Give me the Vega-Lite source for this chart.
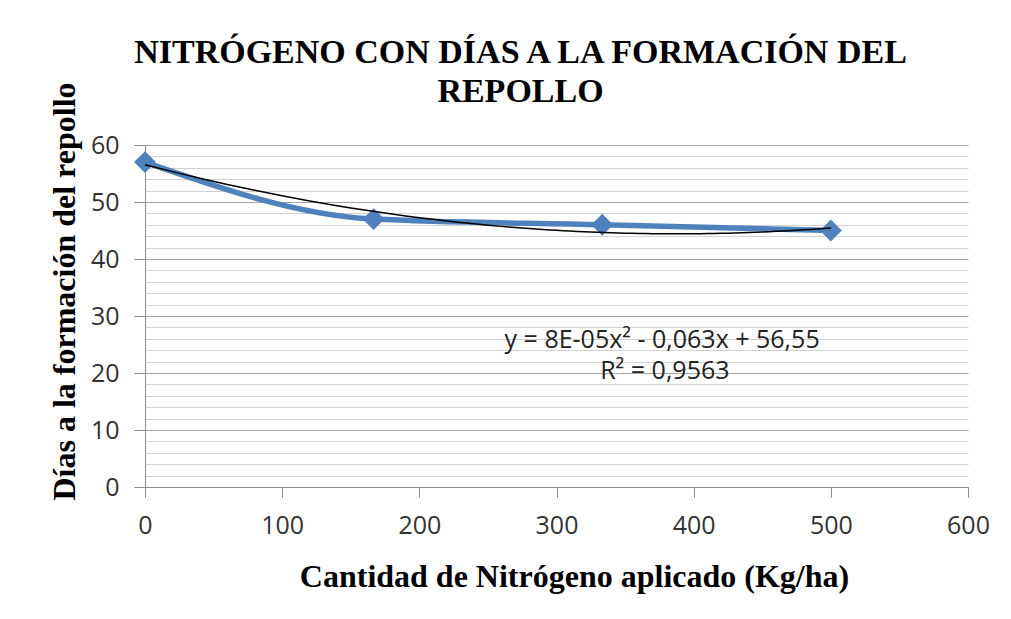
{
  "$schema": "https://vega.github.io/schema/vega-lite/v6.json",
  "width": 823,
  "height": 342,
  "autosize": "none",
  "padding": {"left": 145, "top": 145, "right": 43, "bottom": 132},
  "background": "white",
  "title": {
    "text": ["NITRÓGENO CON DÍAS A LA FORMACIÓN DEL", "REPOLLO"],
    "font": "Liberation Serif",
    "fontSize": 34,
    "fontWeight": "bold",
    "color": "black",
    "lineHeight": 39,
    "anchor": "middle",
    "frame": "group",
    "dx": -36,
    "dy": 67,
    "offset": 40
  },
  "data": {
    "values": [
      {"n": 0, "d": 57},
      {"n": 166.67, "d": 47},
      {"n": 333.33, "d": 46},
      {"n": 500, "d": 45}
    ]
  },
  "encoding": {
    "x": {
      "field": "n",
      "type": "quantitative",
      "scale": {"domain": [0, 600], "nice": false, "zero": false},
      "axis": {
        "values": [0, 100, 200, 300, 400, 500, 600],
        "grid": false,
        "title": "Cantidad de Nitrógeno aplicado (Kg/ha)",
        "titleFont": "Liberation Serif",
        "titleFontSize": 32,
        "titleFontWeight": "bold",
        "titleColor": "black",
        "titleBaseline": "alphabetic",
        "titleX": 429,
        "titleY": 99,
        "labelFont": "Open Sans",
        "labelFontSize": 25,
        "labelColor": "#333333",
        "labelPadding": 16,
        "tickSize": 10,
        "tickColor": "#8c8c8c",
        "domainColor": "#8c8c8c",
        "labelFlush": false
      }
    },
    "y": {
      "field": "d",
      "type": "quantitative",
      "scale": {"domain": [0, 60], "nice": false},
      "axis": {
        "values": [0, 2, 4, 6, 8, 10, 12, 14, 16, 18, 20, 22, 24, 26, 28, 30, 32, 34, 36, 38, 40, 42, 44, 46, 48, 50, 52, 54, 56, 58, 60],
        "labelExpr": "datum.value % 10 === 0 ? datum.label : ''",
        "grid": true,
        "gridColor": {"condition": {"test": "datum.value % 10 === 0", "value": "#a6a6a6"}, "value": "#d2d2d2"},
        "gridWidth": 1.2,
        "tickOpacity": {"condition": {"test": "datum.value % 10 === 0", "value": 1}, "value": 0},
        "tickSize": 11,
        "tickColor": "#8c8c8c",
        "domainColor": "#8c8c8c",
        "labelPadding": 15,
        "labelFont": "Open Sans",
        "labelFontSize": 25,
        "labelColor": "#333333",
        "labelFlush": false,
        "title": "Días a la formación del repollo",
        "titleFont": "Liberation Serif",
        "titleFontSize": 32,
        "titleFontWeight": "bold",
        "titleColor": "black",
        "titleBaseline": "alphabetic",
        "titleAngle": -90,
        "titleX": -71,
        "titleY": 146
      }
    }
  },
  "layer": [
    {
      "mark": {"type": "line", "color": "#4F81BD", "strokeWidth": 5.5, "interpolate": "monotone"}
    },
    {
      "mark": {"type": "point", "shape": "diamond", "filled": true, "color": "#4F81BD", "size": 480, "opacity": 1}
    },
    {
      "transform": [{"regression": "d", "on": "n", "method": "poly", "order": 2}],
      "mark": {"type": "line", "color": "black", "strokeWidth": 1.5}
    },
    {
      "data": {
        "values": [
          {"label": "y = 8E-05x² - 0,063x + 56,55", "n": 377, "d": 25.8},
          {"label": "R² = 0,9563", "n": 379, "d": 20.3}
        ]
      },
      "mark": {"type": "text", "font": "Open Sans", "fontSize": 25, "color": "#222222", "align": "center", "baseline": "middle"},
      "encoding": {"text": {"field": "label"}}
    }
  ],
  "config": {"view": {"stroke": null}}
}
